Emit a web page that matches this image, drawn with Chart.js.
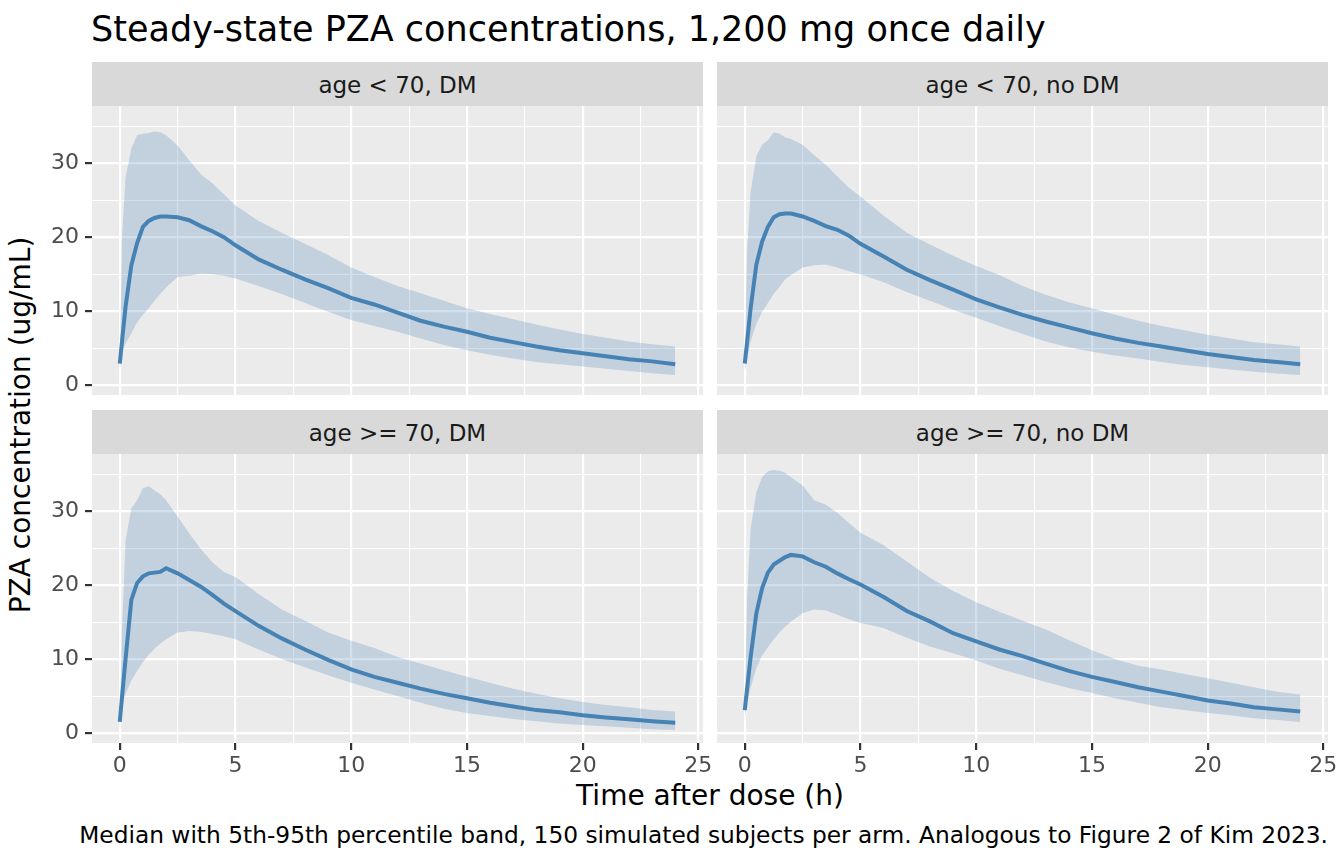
<!DOCTYPE html>
<html>
<head>
<meta charset="utf-8">
<script src="https://cdn.jsdelivr.net/npm/chart.js@4.4.1/dist/chart.umd.min.js"></script>
<style>
  html, body { margin: 0; padding: 0; background: #fff; }
  body { position: relative; width: 1344px; height: 864px; overflow: hidden; font-family: 'DejaVu Sans', sans-serif; }
  canvas { position: absolute; }
  .txt { position: absolute; white-space: nowrap; color: #000; }
  .strip { position: absolute; background: #D9D9D9; color: #1A1A1A; font-size: 23px; text-align: center; z-index: 2; }
</style>
</head>
<body>

<div class="txt" id="title" style="left:91px; top:9px; height:40px; line-height:40px; font-size:35px;">Steady-state PZA concentrations, 1,200 mg once daily</div>
<div class="txt" id="xtitle" style="left:92px; width:1236px; top:776px; height:40px; line-height:40px; font-size:28px; text-align:center;">Time after dose (h)</div>
<div class="txt" id="ytitle" style="left:21px; top:425px; height:40px; line-height:40px; font-size:28px; transform: translate(-50%, -50%) rotate(-90deg);">PZA concentration (ug/mL)</div>
<div class="txt" id="caption" style="right:16px; top:820px; height:30px; line-height:30px; font-size:23.3px; text-align:right;">Median with 5th-95th percentile band, 150 simulated subjects per arm. Analogous to Figure 2 of Kim 2023.</div>

<script>
// time grid (h)
const hours = [0, 0.1, 0.25, 0.5, 0.75, 1, 1.25, 1.5, 1.75, 2, 2.5, 3, 3.5, 4, 4.5, 5,
               6, 7, 8, 9, 10, 11, 12, 13, 14, 15, 16, 17, 18, 19, 20, 21, 22, 23, 24];

const panelNames = ['age < 70, DM', 'age < 70, no DM', 'age >= 70, DM', 'age >= 70, no DM'];

// age < 70, DM
const medYoungDM = [2.9, 6.0, 10.6, 16.2, 19.2, 21.4, 22.2, 22.6, 22.8, 22.8, 22.7, 22.3, 21.5, 20.8, 20.0, 18.9,
                    17.0, 15.6, 14.3, 13.1, 11.8, 10.9, 9.8, 8.7, 7.9, 7.2, 6.4, 5.8, 5.2, 4.7, 4.3, 3.9, 3.5, 3.2, 2.8];
const p05YoungDM = [1.8, 4.5, 5.6, 7.0, 8.5, 9.5, 10.4, 11.4, 12.3, 13.2, 14.6, 14.8, 15.1, 15.0, 14.8, 14.4,
                    13.4, 12.3, 11.1, 9.9, 8.8, 8.0, 7.2, 6.3, 5.4, 4.7, 4.1, 3.6, 3.1, 2.8, 2.5, 2.2, 1.9, 1.6, 1.35];
const p95YoungDM = [3.5, 20.0, 28.0, 32.0, 33.8, 34.0, 34.1, 34.3, 34.2, 33.8, 32.4, 30.4, 28.5, 27.3, 25.8, 24.3,
                    22.2, 20.6, 19.1, 17.6, 15.9, 14.6, 13.4, 12.4, 11.4, 10.4, 9.6, 8.9, 8.2, 7.5, 6.9, 6.4, 5.9, 5.5, 5.2];

// age < 70, no DM
const medYoungNoDM = [2.9, 5.8, 10.3, 16.3, 19.4, 21.4, 22.7, 23.1, 23.2, 23.2, 22.8, 22.2, 21.5, 21.0, 20.2, 19.1,
                      17.4, 15.6, 14.2, 12.9, 11.6, 10.5, 9.5, 8.6, 7.8, 7.0, 6.3, 5.7, 5.2, 4.7, 4.2, 3.8, 3.4, 3.1, 2.8];
const p05YoungNoDM = [1.8, 3.6, 5.9, 8.3, 9.9, 11.1, 12.3, 13.3, 14.3, 14.9, 15.9, 16.2, 16.3, 15.9, 15.4, 15.0,
                      13.9, 12.6, 11.4, 10.2, 9.1, 8.0, 6.9, 5.9, 5.1, 4.5, 4.0, 3.6, 3.1, 2.7, 2.4, 2.1, 1.8, 1.55, 1.35];
const p95YoungNoDM = [3.5, 18.0, 26.0, 31.0, 32.5, 33.1, 34.2, 34.0, 33.5, 33.3, 32.5, 31.1, 29.8, 28.2, 26.7, 25.5,
                      22.9, 20.6, 19.0, 17.5, 16.1, 14.9, 13.4, 12.2, 11.2, 10.4, 9.5, 8.7, 8.0, 7.4, 6.8, 6.3, 5.8, 5.5, 5.2];

// age >= 70, DM
const medOldDM = [1.5, 5.0, 10.0, 18.0, 20.3, 21.2, 21.6, 21.7, 21.8, 22.3, 21.6, 20.7, 19.8, 18.7, 17.5, 16.5,
                  14.5, 12.8, 11.3, 9.9, 8.6, 7.6, 6.8, 6.0, 5.3, 4.7, 4.1, 3.6, 3.1, 2.8, 2.4, 2.1, 1.85, 1.6, 1.4];
const p05OldDM = [1.0, 3.8, 5.3, 7.1, 8.4, 9.6, 10.6, 11.4, 12.1, 12.7, 13.6, 13.8, 13.7, 13.4, 13.1, 12.7,
                  11.3, 10.0, 8.9, 7.8, 6.8, 5.9, 5.0, 4.1, 3.3, 2.7, 2.3, 1.9, 1.6, 1.3, 1.1, 0.9, 0.7, 0.5, 0.4];
const p95OldDM = [2.0, 14.0, 26.0, 30.4, 31.5, 33.1, 33.4, 32.8, 32.3, 31.5, 29.3, 27.0, 24.9, 23.1, 21.8, 21.1,
                  18.8, 16.7, 15.2, 13.6, 12.5, 11.5, 10.3, 9.4, 8.5, 7.6, 6.8, 6.0, 5.3, 4.7, 4.2, 3.8, 3.5, 3.1, 2.9];

// age >= 70, no DM
const medOldNoDM = [3.1, 6.0, 10.2, 16.2, 19.6, 21.7, 22.8, 23.3, 23.8, 24.1, 23.9, 23.1, 22.5, 21.6, 20.8, 20.1,
                    18.4, 16.5, 15.1, 13.5, 12.4, 11.3, 10.4, 9.4, 8.4, 7.6, 6.9, 6.2, 5.6, 5.0, 4.4, 4.0, 3.5, 3.2, 2.9];
const p05OldNoDM = [1.8, 4.0, 6.1, 8.8, 10.5, 11.6, 12.7, 13.6, 14.4, 15.1, 16.2, 16.7, 16.6, 16.0, 15.4, 14.9,
                    14.2, 12.9, 11.7, 10.8, 9.8, 8.7, 7.8, 6.9, 6.1, 5.4, 4.7, 4.1, 3.5, 3.1, 2.7, 2.4, 2.0, 1.75, 1.5];
const p95OldNoDM = [3.8, 18.0, 27.5, 32.6, 34.6, 35.4, 35.6, 35.5, 35.2, 34.6, 33.5, 31.5, 30.9, 29.8, 28.4, 27.1,
                    25.4, 23.2, 21.0, 19.2, 17.7, 16.4, 15.2, 14.0, 12.6, 11.2, 10.0, 9.1, 8.6, 8.0, 7.4, 6.8, 6.2, 5.6, 5.2];

const xTicks = [0, 2.5, 5, 7.5, 10, 12.5, 15, 17.5, 20, 22.5, 25];
const xMajor = [0, 5, 10, 15, 20, 25];
const yTicks = [0, 5, 10, 15, 20, 25, 30, 35];
const yMajor = [0, 10, 20, 30];

// layout of the 2x2 facet grid
const panelLeft = [92, 717];
const panelTop = [106, 454];
const panelW = 611;
const panelH = 289;
const stripH = 44;

Chart.defaults.font.family = 'DejaVu Sans';
Chart.defaults.font.size = 22;
Chart.defaults.color = '#4D4D4D';

const panelBg = {
    id: 'panelBg',
    beforeDraw(chart) {
        const {ctx, chartArea} = chart;
        ctx.save();
        ctx.fillStyle = '#EBEBEB';
        ctx.fillRect(chartArea.left, chartArea.top, chartArea.width, chartArea.height);
        ctx.restore();
    }
};

function toPoints(arr){
    return hours.map((h, i) => ({x: h, y: arr[i]}));
}

function makePanel(idx, med, lo, hi){
    const col = idx % 2;
    const row = Math.floor(idx / 2);
    const showY = col === 0;
    const showX = row === 1;
    const yW = showY ? 60 : 0;
    const xH = showX ? 40 : 0;
    const padTop = 22, padRight = 25;
    const padBottom = showX ? 0 : 22;

    // facet strip
    const strip = document.createElement('div');
    strip.className = 'strip';
    strip.style.left = panelLeft[col] + 'px';
    strip.style.top = (panelTop[row] - stripH) + 'px';
    strip.style.width = panelW + 'px';
    strip.style.height = stripH + 'px';
    strip.style.lineHeight = (stripH + 2) + 'px';
    strip.textContent = panelNames[idx];
    document.body.appendChild(strip);

    const canvas = document.createElement('canvas');
    const w = yW + panelW + padRight;
    const h = padTop + panelH + xH + padBottom;
    canvas.width = w;
    canvas.height = h;
    canvas.style.width = w + 'px';
    canvas.style.height = h + 'px';
    canvas.style.left = (panelLeft[col] - yW) + 'px';
    canvas.style.top = (panelTop[row] - padTop) + 'px';
    document.body.appendChild(canvas);

    const config = {
        type: 'line',
        data: {
            datasets: [
                {
                    label: '95th',
                    data: toPoints(hi),
                    borderWidth: 0,
                    borderColor: 'rgba(0,0,0,0)',
                    backgroundColor: 'rgba(70, 130, 180, 0.25)',
                    fill: '+1',
                    pointRadius: 0
                },
                {
                    label: '5th',
                    data: toPoints(lo),
                    borderWidth: 0,
                    borderColor: 'rgba(0,0,0,0)',
                    fill: false,
                    pointRadius: 0
                },
                {
                    label: 'Median',
                    data: toPoints(med),
                    borderColor: '#4682B4',
                    borderWidth: 4,
                    fill: false,
                    pointRadius: 0
                }
            ]
        },
        options: {
            responsive: false,
            animation: false,
            events: [],
            layout: {padding: {left: 0, top: padTop, right: padRight, bottom: padBottom}},
            plugins: {
                legend: {display: false},
                tooltip: {enabled: false}
            },
            scales: {
                x: {
                    type: 'linear',
                    min: -1.2,
                    max: 25.2,
                    border: {display: false},
                    afterBuildTicks: axis => { axis.ticks = xTicks.map(v => ({value: v})); },
                    afterFit: axis => { axis.height = xH; },
                    grid: {
                        color: '#FFFFFF',
                        lineWidth: c => (c.tick && xMajor.includes(c.tick.value)) ? 2.2 : 1.1,
                        drawTicks: showX,
                        tickLength: 7,
                        tickWidth: 2.2,
                        tickColor: c => (c.tick && xMajor.includes(c.tick.value)) ? '#333333' : 'rgba(0,0,0,0)'
                    },
                    ticks: {
                        display: showX,
                        autoSkip: false,
                        maxRotation: 0,
                        padding: 3,
                        color: '#4D4D4D',
                        callback: v => xMajor.includes(v) ? String(v) : ''
                    }
                },
                y: {
                    type: 'linear',
                    min: -1.35,
                    max: 37.75,
                    border: {display: false},
                    afterBuildTicks: axis => { axis.ticks = yTicks.map(v => ({value: v})); },
                    afterFit: axis => { axis.width = yW; },
                    grid: {
                        color: '#FFFFFF',
                        lineWidth: c => (c.tick && yMajor.includes(c.tick.value)) ? 2.2 : 1.1,
                        drawTicks: showY,
                        tickLength: 7,
                        tickWidth: 2.2,
                        tickColor: c => (c.tick && yMajor.includes(c.tick.value)) ? '#333333' : 'rgba(0,0,0,0)'
                    },
                    ticks: {
                        display: showY,
                        autoSkip: false,
                        padding: 6,
                        color: '#4D4D4D',
                        callback: v => yMajor.includes(v) ? String(v) : ''
                    }
                }
            }
        },
        plugins: [panelBg]
    };

    return new Chart(canvas.getContext('2d'), config);
}

makePanel(0, medYoungDM, p05YoungDM, p95YoungDM);
makePanel(1, medYoungNoDM, p05YoungNoDM, p95YoungNoDM);
makePanel(2, medOldDM, p05OldDM, p95OldDM);
makePanel(3, medOldNoDM, p05OldNoDM, p95OldNoDM);
</script>
</body>
</html>
